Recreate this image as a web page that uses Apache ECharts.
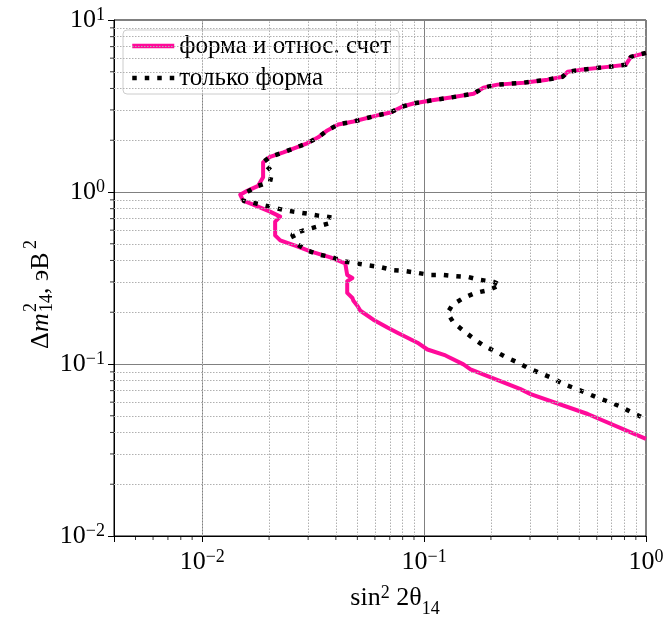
<!DOCTYPE html>
<html>
<head>
<meta charset="utf-8">
<script src="https://cdn.jsdelivr.net/npm/echarts@6/dist/echarts.min.js"></script>
<style>
html, body { margin: 0; padding: 0; background: #fff; }
#main { width: 668px; height: 623px; }
</style>
</head>
<body>
<div id="main"></div>
<script>
// форма и относ. счет
const fullX = [1.0, 0.854, 0.811, 0.672, 0.508, 0.444, 0.421, 0.360, 0.281, 0.214, 0.185, 0.167, 0.1315, 0.1067, 0.0895, 0.0798, 0.0705, 0.0615, 0.0480, 0.0410, 0.0366, 0.0333, 0.0297, 0.0232, 0.0202, 0.0188,
	0.0188, 0.01786, 0.01594, 0.01482, 0.01528, 0.01696, 0.0202, 0.02245, 0.0213, 0.0213, 0.02245, 0.0268, 0.0307, 0.0378, 0.0441, 0.0450, 0.0475, 0.0450, 0.0450, 0.0475, 0.0480, 0.0500, 0.0516, 0.0590, 0.0683, 0.0758, 0.0933, 0.1035, 0.1248, 0.1504, 0.1618, 0.272, 0.302, 0.546, 1.0];
const fullY = [6.44, 6.10, 5.49, 5.34, 5.13, 5.00, 4.68, 4.50, 4.32, 4.21, 4.04, 3.73, 3.54, 3.40, 3.27, 3.14, 2.90, 2.79, 2.57, 2.47, 2.28, 2.08, 1.92, 1.70, 1.60, 1.49,
	1.22, 1.086, 1.016, 0.964, 0.890, 0.844, 0.769, 0.719, 0.673, 0.559, 0.523, 0.483, 0.452, 0.417, 0.385, 0.329, 0.316, 0.303, 0.259, 0.242, 0.233, 0.218, 0.204, 0.181, 0.163, 0.152, 0.133, 0.1214, 0.1121, 0.0995, 0.0931, 0.0714, 0.0668, 0.0512, 0.0367];

// только форма
const shapeX = [1.0, 0.854, 0.811, 0.672, 0.508, 0.444, 0.421, 0.360, 0.281, 0.214, 0.185, 0.167, 0.1315, 0.1067, 0.0895, 0.0798, 0.0705, 0.0615, 0.0480, 0.0410, 0.0366, 0.0333, 0.0297, 0.0232, 0.0202, 0.0188,
	0.0188, 0.02066, 0.0202, 0.01786, 0.01594, 0.01528, 0.01768, 0.0202, 0.0229, 0.0257, 0.0297, 0.0333, 0.0385, 0.0370, 0.0330, 0.0285, 0.0254, 0.0268, 0.0297, 0.0333, 0.0385, 0.0432, 0.0490, 0.0555, 0.0635, 0.0727, 0.0823, 0.0943, 0.1067, 0.1222, 0.1385, 0.1585, 0.1795, 0.2056, 0.221,
	0.195, 0.1704, 0.1504, 0.1342, 0.1274, 0.1356, 0.1504, 0.167, 0.185, 0.210, 0.235, 0.264, 0.296, 0.335, 0.380, 0.426, 0.477, 0.540, 0.612, 0.686, 0.777, 0.872, 1.0];
const shapeY = [6.44, 6.10, 5.49, 5.34, 5.13, 5.00, 4.68, 4.50, 4.32, 4.21, 4.04, 3.73, 3.54, 3.40, 3.27, 3.14, 2.90, 2.79, 2.57, 2.47, 2.28, 2.08, 1.92, 1.70, 1.60, 1.49,
	1.454, 1.308, 1.145, 1.086, 1.003, 0.890, 0.855, 0.822, 0.789, 0.769, 0.749, 0.729, 0.710, 0.656, 0.630, 0.597, 0.567, 0.496, 0.458, 0.434, 0.417, 0.396, 0.385, 0.375, 0.366, 0.351, 0.347, 0.338, 0.329, 0.329, 0.324, 0.320, 0.308, 0.300, 0.288,
	0.269, 0.259, 0.242, 0.221, 0.198, 0.174, 0.156, 0.1405, 0.128, 0.1182, 0.1092, 0.1021, 0.0943, 0.0883, 0.0826, 0.0763, 0.0723, 0.0677, 0.0633, 0.0601, 0.0562, 0.0519, 0.0479];

const seriesNames = ['форма и относ. счет', 'только форма'];
const xRange = [0.004, 1];
const yRange = [0.01, 10];
const xMinor = [0.005, 0.006, 0.007, 0.008, 0.009, 0.02, 0.03, 0.04, 0.05, 0.06, 0.07, 0.08, 0.09, 0.2, 0.3, 0.4, 0.5, 0.6, 0.7, 0.8, 0.9];
const yMinor = [0.02, 0.03, 0.04, 0.05, 0.06, 0.07, 0.08, 0.09, 0.2, 0.3, 0.4, 0.5, 0.6, 0.7, 0.8, 0.9, 2, 3, 4, 5, 6, 7, 8, 9];

const FONT = 'Liberation Serif';

var chart = echarts.init(document.getElementById('main'), null, { width: 668, height: 623 });

function powLabel(v) {
	var e = Math.log10(v);
	var r = Math.round(e);
	if (Math.abs(e - r) > 1e-6) return '';
	return '{b|10}{e|' + (r < 0 ? '\u2212' + (-r) : r) + '}';
}
const labelRich = {
	b: { fontFamily: FONT, fontSize: 26, lineHeight: 28, color: '#000' },
	e: { fontFamily: FONT, fontSize: 18, lineHeight: 18, verticalAlign: 'top', color: '#000' }
};

function pairs(xs, ys) {
	return xs.map(function (x, i) { return [x, ys[i]]; });
}

var option = {
	animation: false,
	grid: {
		left: 114, right: 22, top: 20, bottom: 83,
		show: true, borderColor: '#000', borderWidth: 1, backgroundColor: 'transparent'
	},
	legend: {
		data: seriesNames,
		orient: 'vertical',
		left: 123, top: 30,
		padding: [2, 8, 2, 7],
		itemGap: 4,
		itemWidth: 42, itemHeight: 14,
		backgroundColor: 'rgba(255,255,255,0.85)',
		borderColor: '#cccccc', borderWidth: 1, borderRadius: 4,
		itemStyle: { color: 'transparent', borderColor: 'transparent', borderWidth: 0 },
		lineStyle: { width: 4.5 },
		textStyle: { fontFamily: FONT, fontSize: 25, lineHeight: 28, color: '#000' }
	},
	xAxis: {
		type: 'log', logBase: 10,
		min: xRange[0], max: xRange[1],
		name: '{n|sin}{s|2}{n| 2θ}{d|14}',
		nameLocation: 'middle', nameGap: 48,
		nameTextStyle: {
			padding: [0, 0, 0, 30],
			rich: {
				n: { fontFamily: FONT, fontSize: 26, lineHeight: 28, color: '#000' },
				s: { fontFamily: FONT, fontSize: 18, lineHeight: 18, verticalAlign: 'top', color: '#000' },
				d: { fontFamily: FONT, fontSize: 18, lineHeight: 18, verticalAlign: 'bottom', color: '#000', padding: [0, 0, -6, 0] }
			}
		},
		axisLine: { show: true, lineStyle: { color: '#000', width: 1 } },
		axisTick: { show: true, inside: false, length: 6, lineStyle: { color: '#000' } },
		axisLabel: { margin: 12, formatter: powLabel, rich: labelRich },
		splitLine: { show: true, lineStyle: { color: '#808080', width: 1 } },
		minorTick: { show: false },
		minorSplitLine: { show: false }
	},
	yAxis: {
		type: 'log', logBase: 10,
		min: yRange[0], max: yRange[1],
		axisLine: { show: true, lineStyle: { color: '#000', width: 1 } },
		axisTick: { show: true, inside: false, length: 6, lineStyle: { color: '#000' } },
		axisLabel: { margin: 9, formatter: powLabel, rich: labelRich },
		splitLine: { show: true, lineStyle: { color: '#808080', width: 1 } }
	},
	graphic: [{
		type: 'group',
		x: 41, y: 349,
		rotation: Math.PI / 2,
		children: [
			{ type: 'text', x: 0, y: 0, style: { text: 'Δ', font: '26px "Liberation Serif"', fill: '#000', verticalAlign: 'middle' } },
			{ type: 'text', x: 17, y: 0, style: { text: 'm', font: 'italic 26px "Liberation Serif"', fill: '#000', verticalAlign: 'middle' } },
			{ type: 'text', x: 37, y: -10, style: { text: '2', font: '18px "Liberation Serif"', fill: '#000', verticalAlign: 'middle' } },
			{ type: 'text', x: 37, y: 6, style: { text: '14', font: '18px "Liberation Serif"', fill: '#000', verticalAlign: 'middle' } },
			{ type: 'text', x: 55, y: 0, style: { text: ', эВ', font: '26px "Liberation Serif"', fill: '#000', verticalAlign: 'middle' } },
			{ type: 'text', x: 100, y: -10, style: { text: '2', font: '18px "Liberation Serif"', fill: '#000', verticalAlign: 'middle' } }
		]
	}],
	series: [
		{
			name: 'minor grid',
			type: 'line',
			data: [],
			z: 1,
			silent: true,
			markLine: {
				silent: true,
				symbol: 'none',
				label: { show: false },
				lineStyle: { color: '#b0b0b0', width: 1, type: [1.5, 1.5] },
				emphasis: { disabled: true },
				data: xMinor.map(function (v) { return { xAxis: v }; })
					.concat(yMinor.map(function (v) { return { yAxis: v }; }))
			}
		},
		{
			name: 'x minor ticks',
			type: 'scatter',
			data: xMinor.map(function (v) { return [v, yRange[0]]; }),
			symbol: 'rect', symbolSize: [1, 4], symbolOffset: [0, 2],
			itemStyle: { color: '#000' },
			clip: false, silent: true, z: 5
		},
		{
			name: 'y minor ticks',
			type: 'scatter',
			data: yMinor.map(function (v) { return [xRange[0], v]; }),
			symbol: 'rect', symbolSize: [4, 1], symbolOffset: [-2, 0],
			itemStyle: { color: '#000' },
			clip: false, silent: true, z: 5
		},
		{
			name: seriesNames[0],
			type: 'line',
			data: pairs(fullX, fullY),
			showSymbol: false, symbol: 'none',
			z: 3,
			lineStyle: { color: '#ff0a9a', width: 4, join: 'round' },
			itemStyle: { color: '#ff0a9a' }
		},
		{
			name: seriesNames[1],
			type: 'line',
			data: pairs(shapeX, shapeY),
			showSymbol: false, symbol: 'none',
			z: 4,
			lineStyle: { color: '#000', width: 4.5, type: [4.5, 8], cap: 'butt' },
			itemStyle: { color: '#000' }
		}
	]
};

chart.setOption(option);
</script>
</body>
</html>
